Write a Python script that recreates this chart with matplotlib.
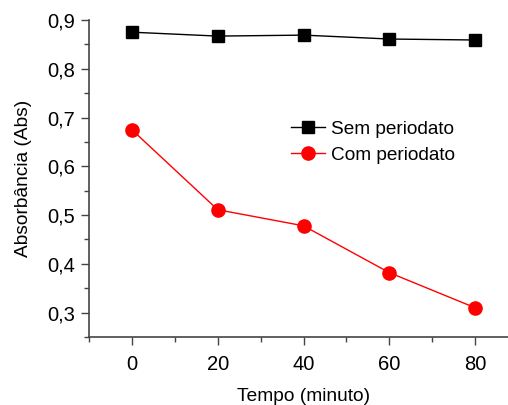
import matplotlib.pyplot as plt
from matplotlib.ticker import MultipleLocator, FuncFormatter

plt.rcParams['font.family'] = ['Liberation Sans', 'DejaVu Sans']

tempo = [0, 20, 40, 60, 80]
sem_periodato = [0.875, 0.867, 0.869, 0.861, 0.859]
com_periodato = [0.675, 0.511, 0.478, 0.382, 0.310]

fig = plt.figure(figsize=(5.08, 4.05), dpi=100)
ax = fig.add_axes([89 / 508, 68 / 405, 429 / 508, 317 / 405])

ax.plot(tempo, sem_periodato, color='black', lw=1, marker='s', ms=8.5,
        label='Sem periodato')
ax.plot(tempo, com_periodato, color='red', lw=1, marker='o', ms=9.5,
        label='Com periodato')

ax.set_xlim(-10, 90)
ax.set_ylim(0.25, 0.9)
ax.xaxis.set_major_locator(MultipleLocator(20))
ax.xaxis.set_minor_locator(MultipleLocator(10))
ax.yaxis.set_major_locator(MultipleLocator(0.1))
ax.yaxis.set_minor_locator(MultipleLocator(0.05))
ax.yaxis.set_major_formatter(FuncFormatter(lambda v, p: f'{v:.1f}'.replace('.', ',')))

for s in ['top', 'right']:
    ax.spines[s].set_visible(False)
for s in ['left', 'bottom']:
    ax.spines[s].set_color('#444444')
    ax.spines[s].set_linewidth(1.2)
ax.tick_params(which='major', length=6, width=1, colors='#444444', labelcolor='black',
               labelsize=14.5)
ax.tick_params(which='minor', length=3.5, width=1, colors='#444444')
ax.tick_params(axis='x', pad=7)
ax.tick_params(axis='y', pad=4)

ax.set_xlabel('Tempo (minuto)', fontsize=13.8, labelpad=10)
ax.set_ylabel('Absorbância (Abs)', fontsize=13.8, labelpad=11)

ax.legend(loc='upper left', bbox_to_anchor=(0.43, 0.737), frameon=False, fontsize=13.7,
          handlelength=1.8, handletextpad=0.3, labelspacing=0.45)

fig.savefig('out.png', dpi=100)
